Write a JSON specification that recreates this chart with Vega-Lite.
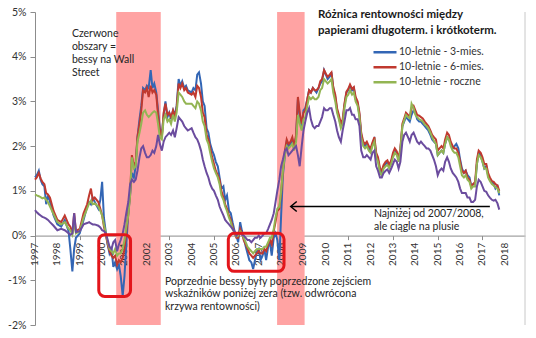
{
  "$schema": "https://vega.github.io/schema/vega-lite/v6.json",
  "width": 490,
  "height": 313,
  "autosize": {"type": "none"},
  "padding": {"left": 35, "top": 12, "right": 11, "bottom": 13},
  "background": "white",
  "config": {"font": "Lato", "view": {"stroke": null}},
  "datasets": {
    "series": [
      {"t":1997.00,"a":1.30,"b":1.25,"c":0.92,"p":0.57},
      {"t":1997.08,"a":1.35,"b":1.30,"c":0.90,"p":0.52},
      {"t":1997.17,"a":1.45,"b":1.40,"c":0.88,"p":0.48},
      {"t":1997.25,"a":1.25,"b":1.28,"c":0.86,"p":0.45},
      {"t":1997.33,"a":1.15,"b":1.20,"c":0.83,"p":0.42},
      {"t":1997.42,"a":1.10,"b":1.15,"c":0.85,"p":0.40},
      {"t":1997.50,"a":0.70,"b":0.95,"c":0.80,"p":0.38},
      {"t":1997.58,"a":0.90,"b":0.92,"c":0.75,"p":0.35},
      {"t":1997.67,"a":0.75,"b":0.85,"c":0.65,"p":0.30},
      {"t":1997.83,"a":0.45,"b":0.55,"c":0.48,"p":0.22},
      {"t":1998.00,"a":0.25,"b":0.35,"c":0.30,"p":0.12},
      {"t":1998.17,"a":0.20,"b":0.30,"c":0.25,"p":0.15},
      {"t":1998.33,"a":0.35,"b":0.45,"c":0.30,"p":0.12},
      {"t":1998.50,"a":0.10,"b":0.25,"c":0.15,"p":0.05},
      {"t":1998.58,"a":-0.30,"b":0.20,"c":0.12,"p":0.02},
      {"t":1998.67,"a":-0.80,"b":0.05,"c":0.02,"p":0.05},
      {"t":1998.75,"a":-0.30,"b":0.50,"c":0.30,"p":0.50},
      {"t":1998.83,"a":-0.05,"b":0.10,"c":0.05,"p":0.08},
      {"t":1999.00,"a":0.05,"b":0.15,"c":0.10,"p":0.10},
      {"t":1999.17,"a":0.35,"b":0.50,"c":0.40,"p":0.25},
      {"t":1999.33,"a":0.65,"b":0.70,"c":0.60,"p":0.28},
      {"t":1999.42,"a":0.75,"b":0.90,"c":0.72,"p":0.30},
      {"t":1999.50,"a":0.70,"b":1.05,"c":0.78,"p":0.27},
      {"t":1999.58,"a":0.85,"b":0.80,"c":0.70,"p":0.25},
      {"t":1999.67,"a":0.75,"b":0.85,"c":0.72,"p":0.25},
      {"t":1999.83,"a":0.60,"b":0.75,"c":0.65,"p":0.22},
      {"t":1999.92,"a":0.80,"b":0.60,"c":0.55,"p":0.18},
      {"t":2000.00,"a":1.20,"b":0.45,"c":0.45,"p":0.12},
      {"t":2000.08,"a":0.40,"b":0.20,"c":0.25,"p":0.10},
      {"t":2000.17,"a":0.05,"b":0.00,"c":0.05,"p":0.05},
      {"t":2000.25,"a":-0.20,"b":-0.20,"c":-0.15,"p":-0.10},
      {"t":2000.33,"a":-0.40,"b":-0.35,"c":-0.30,"p":-0.25},
      {"t":2000.42,"a":-0.30,"b":-0.45,"c":-0.35,"p":-0.30},
      {"t":2000.50,"a":-0.70,"b":-0.50,"c":-0.40,"p":-0.15},
      {"t":2000.58,"a":-0.60,"b":-0.45,"c":-0.30,"p":-0.10},
      {"t":2000.67,"a":-0.75,"b":-0.65,"c":-0.45,"p":-0.35},
      {"t":2000.75,"a":-0.65,"b":-0.55,"c":-0.40,"p":-0.20},
      {"t":2000.83,"a":-0.90,"b":-0.60,"c":-0.40,"p":-0.10},
      {"t":2000.92,"a":-1.35,"b":-0.50,"c":-0.30,"p":0.05},
      {"t":2001.00,"a":-0.90,"b":-0.30,"c":-0.10,"p":0.25},
      {"t":2001.08,"a":-0.20,"b":0.10,"c":0.20,"p":0.50},
      {"t":2001.17,"a":0.50,"b":0.50,"c":0.45,"p":0.75},
      {"t":2001.25,"a":0.90,"b":0.95,"c":0.90,"p":1.15},
      {"t":2001.33,"a":1.40,"b":1.80,"c":1.75,"p":1.25},
      {"t":2001.42,"a":1.30,"b":1.55,"c":1.50,"p":1.20},
      {"t":2001.50,"a":1.55,"b":1.65,"c":1.55,"p":1.25},
      {"t":2001.58,"a":2.20,"b":2.20,"c":2.10,"p":1.45},
      {"t":2001.67,"a":2.60,"b":2.50,"c":2.30,"p":1.75},
      {"t":2001.75,"a":2.90,"b":2.80,"c":2.50,"p":1.95},
      {"t":2001.83,"a":3.30,"b":3.25,"c":2.75,"p":2.00},
      {"t":2001.92,"a":3.25,"b":3.20,"c":2.80,"p":1.85},
      {"t":2002.00,"a":3.35,"b":3.30,"c":2.70,"p":1.75},
      {"t":2002.08,"a":3.30,"b":3.10,"c":2.65,"p":1.75},
      {"t":2002.17,"a":3.70,"b":3.35,"c":2.70,"p":1.80},
      {"t":2002.25,"a":3.30,"b":3.20,"c":2.75,"p":1.90},
      {"t":2002.33,"a":3.40,"b":3.25,"c":2.78,"p":1.85},
      {"t":2002.42,"a":3.20,"b":3.15,"c":2.75,"p":2.00},
      {"t":2002.50,"a":2.80,"b":2.70,"c":2.50,"p":2.25},
      {"t":2002.58,"a":2.40,"b":2.35,"c":2.20,"p":2.05},
      {"t":2002.67,"a":2.25,"b":2.20,"c":2.15,"p":1.90},
      {"t":2002.75,"a":2.70,"b":2.75,"c":2.60,"p":2.10},
      {"t":2002.83,"a":3.00,"b":2.95,"c":2.70,"p":2.20},
      {"t":2002.92,"a":2.65,"b":2.70,"c":2.55,"p":2.25},
      {"t":2003.00,"a":2.75,"b":2.75,"c":2.60,"p":2.30},
      {"t":2003.08,"a":2.60,"b":2.65,"c":2.50,"p":2.25},
      {"t":2003.17,"a":2.80,"b":2.80,"c":2.70,"p":2.35},
      {"t":2003.25,"a":2.70,"b":2.65,"c":2.55,"p":2.20},
      {"t":2003.33,"a":2.90,"b":2.85,"c":2.75,"p":2.40},
      {"t":2003.42,"a":3.50,"b":3.40,"c":3.20,"p":2.65},
      {"t":2003.50,"a":3.35,"b":3.30,"c":3.15,"p":2.60},
      {"t":2003.58,"a":3.45,"b":3.40,"c":3.10,"p":2.55},
      {"t":2003.67,"a":3.30,"b":3.25,"c":3.00,"p":2.45},
      {"t":2003.75,"a":3.35,"b":3.30,"c":2.95,"p":2.40},
      {"t":2003.83,"a":3.25,"b":3.20,"c":2.95,"p":2.35},
      {"t":2004.00,"a":3.20,"b":3.15,"c":2.95,"p":2.40},
      {"t":2004.08,"a":3.30,"b":3.20,"c":2.90,"p":2.30},
      {"t":2004.17,"a":3.25,"b":3.10,"c":2.85,"p":2.20},
      {"t":2004.25,"a":3.60,"b":3.35,"c":3.00,"p":2.15},
      {"t":2004.33,"a":3.65,"b":3.30,"c":2.95,"p":2.05},
      {"t":2004.42,"a":3.40,"b":3.10,"c":2.80,"p":1.90},
      {"t":2004.50,"a":3.00,"b":2.75,"c":2.55,"p":1.70},
      {"t":2004.58,"a":2.90,"b":2.65,"c":2.45,"p":1.55},
      {"t":2004.67,"a":2.40,"b":2.25,"c":2.15,"p":1.40},
      {"t":2004.75,"a":2.30,"b":2.15,"c":2.05,"p":1.30},
      {"t":2004.83,"a":2.05,"b":1.95,"c":1.85,"p":1.15},
      {"t":2004.92,"a":1.90,"b":1.75,"c":1.65,"p":1.05},
      {"t":2005.00,"a":1.80,"b":1.60,"c":1.50,"p":1.00},
      {"t":2005.08,"a":1.65,"b":1.45,"c":1.40,"p":0.90},
      {"t":2005.17,"a":1.55,"b":1.35,"c":1.30,"p":0.80},
      {"t":2005.25,"a":1.30,"b":1.25,"c":1.15,"p":0.65},
      {"t":2005.33,"a":1.05,"b":1.00,"c":0.90,"p":0.55},
      {"t":2005.42,"a":1.10,"b":0.85,"c":0.80,"p":0.45},
      {"t":2005.50,"a":0.80,"b":0.70,"c":0.65,"p":0.35},
      {"t":2005.58,"a":0.90,"b":0.60,"c":0.55,"p":0.30},
      {"t":2005.67,"a":0.55,"b":0.45,"c":0.40,"p":0.25},
      {"t":2005.75,"a":0.50,"b":0.35,"c":0.30,"p":0.20},
      {"t":2005.83,"a":0.30,"b":0.20,"c":0.15,"p":0.15},
      {"t":2005.92,"a":0.10,"b":0.05,"c":0.05,"p":0.08},
      {"t":2006.00,"a":0.00,"b":-0.05,"c":-0.02,"p":0.00},
      {"t":2006.08,"a":-0.15,"b":-0.05,"c":0.00,"p":0.05},
      {"t":2006.17,"a":0.30,"b":0.15,"c":0.10,"p":0.05},
      {"t":2006.25,"a":0.10,"b":0.05,"c":0.05,"p":0.02},
      {"t":2006.33,"a":-0.05,"b":-0.10,"c":-0.05,"p":0.00},
      {"t":2006.42,"a":-0.25,"b":-0.20,"c":-0.15,"p":-0.05},
      {"t":2006.50,"a":-0.40,"b":-0.30,"c":-0.25,"p":-0.10},
      {"t":2006.58,"a":-0.55,"b":-0.40,"c":-0.30,"p":-0.10},
      {"t":2006.67,"a":-0.60,"b":-0.45,"c":-0.35,"p":-0.15},
      {"t":2006.75,"a":-0.75,"b":-0.50,"c":-0.40,"p":-0.10},
      {"t":2006.83,"a":-0.55,"b":-0.45,"c":-0.35,"p":-0.05},
      {"t":2006.92,"a":-0.35,"b":-0.40,"c":-0.30,"p":-0.05},
      {"t":2007.00,"a":-0.30,"b":-0.35,"c":-0.30,"p":0.00},
      {"t":2007.08,"a":-0.55,"b":-0.40,"c":-0.30,"p":-0.05},
      {"t":2007.17,"a":-0.45,"b":-0.40,"c":-0.30,"p":0.00},
      {"t":2007.25,"a":-0.30,"b":-0.30,"c":-0.25,"p":0.05},
      {"t":2007.33,"a":-0.55,"b":-0.35,"c":-0.25,"p":0.05},
      {"t":2007.42,"a":-0.25,"b":-0.20,"c":-0.15,"p":0.15},
      {"t":2007.50,"a":-0.15,"b":-0.10,"c":-0.05,"p":0.25},
      {"t":2007.58,"a":-0.45,"b":-0.20,"c":-0.05,"p":0.35},
      {"t":2007.67,"a":-0.05,"b":0.10,"c":0.15,"p":0.50},
      {"t":2007.75,"a":0.05,"b":0.30,"c":0.40,"p":0.75},
      {"t":2007.83,"a":-0.10,"b":0.55,"c":0.60,"p":1.00},
      {"t":2007.92,"a":-0.55,"b":0.60,"c":0.65,"p":1.25},
      {"t":2008.00,"a":0.45,"b":0.95,"c":1.00,"p":1.55},
      {"t":2008.08,"a":1.35,"b":1.45,"c":1.45,"p":1.70},
      {"t":2008.17,"a":1.80,"b":1.90,"c":1.80,"p":1.90},
      {"t":2008.25,"a":2.10,"b":2.15,"c":2.00,"p":1.95},
      {"t":2008.33,"a":2.00,"b":2.05,"c":1.95,"p":1.80},
      {"t":2008.42,"a":2.05,"b":2.10,"c":2.00,"p":1.85},
      {"t":2008.50,"a":2.15,"b":2.20,"c":2.05,"p":1.90},
      {"t":2008.58,"a":1.95,"b":2.00,"c":1.90,"p":1.95},
      {"t":2008.67,"a":2.20,"b":2.25,"c":2.10,"p":2.00},
      {"t":2008.75,"a":3.05,"b":3.10,"c":2.70,"p":1.80},
      {"t":2008.83,"a":2.70,"b":2.75,"c":2.50,"p":1.55},
      {"t":2008.92,"a":2.45,"b":2.50,"c":2.35,"p":2.00},
      {"t":2009.00,"a":2.80,"b":2.75,"c":2.60,"p":2.35},
      {"t":2009.08,"a":2.85,"b":2.80,"c":2.65,"p":2.55},
      {"t":2009.17,"a":3.05,"b":3.05,"c":2.90,"p":2.75},
      {"t":2009.25,"a":3.25,"b":3.25,"c":3.10,"p":2.85},
      {"t":2009.33,"a":3.20,"b":3.20,"c":3.05,"p":2.60},
      {"t":2009.42,"a":3.30,"b":3.30,"c":3.10,"p":2.45},
      {"t":2009.50,"a":3.25,"b":3.25,"c":3.05,"p":2.40},
      {"t":2009.58,"a":3.20,"b":3.25,"c":3.05,"p":2.45},
      {"t":2009.67,"a":3.30,"b":3.30,"c":3.10,"p":2.45},
      {"t":2009.75,"a":3.40,"b":3.45,"c":3.25,"p":2.55},
      {"t":2009.83,"a":3.45,"b":3.50,"c":3.30,"p":2.65},
      {"t":2009.92,"a":3.70,"b":3.70,"c":3.50,"p":2.85},
      {"t":2010.00,"a":3.60,"b":3.62,"c":3.45,"p":2.80},
      {"t":2010.08,"a":3.50,"b":3.55,"c":3.40,"p":2.80},
      {"t":2010.17,"a":3.55,"b":3.60,"c":3.45,"p":2.85},
      {"t":2010.25,"a":3.65,"b":3.65,"c":3.50,"p":2.85},
      {"t":2010.33,"a":3.30,"b":3.32,"c":3.20,"p":2.70},
      {"t":2010.42,"a":3.10,"b":3.15,"c":3.00,"p":2.55},
      {"t":2010.50,"a":2.80,"b":2.85,"c":2.75,"p":2.35},
      {"t":2010.58,"a":2.65,"b":2.70,"c":2.60,"p":2.20},
      {"t":2010.67,"a":2.45,"b":2.50,"c":2.40,"p":2.10},
      {"t":2010.75,"a":2.55,"b":2.60,"c":2.50,"p":2.35},
      {"t":2010.83,"a":2.90,"b":2.95,"c":2.85,"p":2.55},
      {"t":2010.92,"a":3.20,"b":3.22,"c":3.10,"p":2.80},
      {"t":2011.00,"a":3.25,"b":3.28,"c":3.15,"p":2.80},
      {"t":2011.08,"a":3.35,"b":3.38,"c":3.25,"p":2.85},
      {"t":2011.17,"a":3.25,"b":3.28,"c":3.15,"p":2.70},
      {"t":2011.25,"a":3.30,"b":3.32,"c":3.20,"p":2.70},
      {"t":2011.33,"a":3.05,"b":3.10,"c":3.00,"p":2.60},
      {"t":2011.42,"a":2.95,"b":3.00,"c":2.90,"p":2.60},
      {"t":2011.50,"a":2.70,"b":2.75,"c":2.65,"p":2.45},
      {"t":2011.58,"a":2.25,"b":2.30,"c":2.20,"p":1.90},
      {"t":2011.67,"a":2.05,"b":2.10,"c":2.00,"p":1.75},
      {"t":2011.75,"a":2.00,"b":2.05,"c":1.95,"p":1.75},
      {"t":2011.83,"a":2.05,"b":2.10,"c":2.00,"p":1.80},
      {"t":2011.92,"a":1.95,"b":2.00,"c":1.90,"p":1.75},
      {"t":2012.00,"a":1.90,"b":1.95,"c":1.85,"p":1.70},
      {"t":2012.08,"a":2.05,"b":2.08,"c":2.00,"p":1.85},
      {"t":2012.17,"a":2.15,"b":2.20,"c":2.10,"p":1.90},
      {"t":2012.25,"a":1.80,"b":1.85,"c":1.75,"p":1.55},
      {"t":2012.33,"a":1.70,"b":1.75,"c":1.65,"p":1.45},
      {"t":2012.42,"a":1.45,"b":1.50,"c":1.40,"p":1.30},
      {"t":2012.50,"a":1.40,"b":1.45,"c":1.35,"p":1.30},
      {"t":2012.58,"a":1.55,"b":1.58,"c":1.50,"p":1.40},
      {"t":2012.67,"a":1.60,"b":1.65,"c":1.55,"p":1.45},
      {"t":2012.75,"a":1.65,"b":1.68,"c":1.58,"p":1.48},
      {"t":2012.83,"a":1.55,"b":1.58,"c":1.50,"p":1.40},
      {"t":2012.92,"a":1.65,"b":1.68,"c":1.60,"p":1.50},
      {"t":2013.00,"a":1.80,"b":1.85,"c":1.75,"p":1.60},
      {"t":2013.08,"a":1.90,"b":1.95,"c":1.85,"p":1.70},
      {"t":2013.17,"a":1.85,"b":1.88,"c":1.80,"p":1.65},
      {"t":2013.25,"a":1.70,"b":1.72,"c":1.65,"p":1.50},
      {"t":2013.33,"a":1.90,"b":1.95,"c":1.90,"p":1.65},
      {"t":2013.42,"a":2.45,"b":2.50,"c":2.45,"p":2.10},
      {"t":2013.50,"a":2.55,"b":2.62,"c":2.58,"p":2.25},
      {"t":2013.58,"a":2.65,"b":2.75,"c":2.70,"p":2.30},
      {"t":2013.67,"a":2.60,"b":2.70,"c":2.65,"p":2.20},
      {"t":2013.75,"a":2.55,"b":2.65,"c":2.62,"p":2.10},
      {"t":2013.83,"a":2.70,"b":2.85,"c":2.95,"p":2.25},
      {"t":2013.92,"a":2.80,"b":2.90,"c":2.85,"p":2.30},
      {"t":2014.00,"a":2.75,"b":2.80,"c":2.70,"p":2.20},
      {"t":2014.08,"a":2.60,"b":2.70,"c":2.65,"p":2.10},
      {"t":2014.17,"a":2.55,"b":2.68,"c":2.60,"p":2.05},
      {"t":2014.25,"a":2.55,"b":2.65,"c":2.58,"p":2.10},
      {"t":2014.33,"a":2.50,"b":2.62,"c":2.55,"p":2.05},
      {"t":2014.42,"a":2.45,"b":2.55,"c":2.48,"p":2.00},
      {"t":2014.50,"a":2.40,"b":2.50,"c":2.45,"p":1.95},
      {"t":2014.58,"a":2.35,"b":2.45,"c":2.40,"p":1.95},
      {"t":2014.67,"a":2.25,"b":2.35,"c":2.30,"p":1.90},
      {"t":2014.75,"a":2.15,"b":2.25,"c":2.20,"p":1.80},
      {"t":2014.83,"a":2.10,"b":2.20,"c":2.12,"p":1.70},
      {"t":2014.92,"a":2.05,"b":2.15,"c":2.05,"p":1.55},
      {"t":2015.00,"a":1.80,"b":1.90,"c":1.80,"p":1.35},
      {"t":2015.08,"a":1.85,"b":1.95,"c":1.85,"p":1.45},
      {"t":2015.17,"a":1.90,"b":2.00,"c":1.90,"p":1.50},
      {"t":2015.25,"a":1.85,"b":1.95,"c":1.85,"p":1.45},
      {"t":2015.33,"a":2.05,"b":2.15,"c":2.05,"p":1.65},
      {"t":2015.42,"a":2.20,"b":2.30,"c":2.20,"p":1.75},
      {"t":2015.50,"a":2.15,"b":2.25,"c":2.15,"p":1.65},
      {"t":2015.58,"a":2.05,"b":2.10,"c":2.00,"p":1.50},
      {"t":2015.67,"a":1.95,"b":2.00,"c":1.90,"p":1.40},
      {"t":2015.75,"a":2.00,"b":1.95,"c":1.85,"p":1.35},
      {"t":2015.83,"a":2.05,"b":1.95,"c":1.85,"p":1.30},
      {"t":2015.92,"a":1.95,"b":1.85,"c":1.75,"p":1.20},
      {"t":2016.00,"a":1.70,"b":1.65,"c":1.55,"p":1.05},
      {"t":2016.08,"a":1.50,"b":1.45,"c":1.35,"p":0.95},
      {"t":2016.17,"a":1.40,"b":1.40,"c":1.30,"p":0.95},
      {"t":2016.25,"a":1.45,"b":1.45,"c":1.35,"p":0.95},
      {"t":2016.33,"a":1.35,"b":1.30,"c":1.25,"p":0.85},
      {"t":2016.42,"a":1.30,"b":1.25,"c":1.20,"p":0.85},
      {"t":2016.50,"a":1.10,"b":1.10,"c":1.05,"p":0.75},
      {"t":2016.58,"a":1.15,"b":1.15,"c":1.10,"p":0.75},
      {"t":2016.67,"a":1.15,"b":1.20,"c":1.10,"p":0.80},
      {"t":2016.75,"a":1.60,"b":1.70,"c":1.60,"p":1.10},
      {"t":2016.83,"a":1.85,"b":1.90,"c":1.80,"p":1.25},
      {"t":2016.92,"a":1.80,"b":1.85,"c":1.75,"p":1.20},
      {"t":2017.00,"a":1.65,"b":1.75,"c":1.65,"p":1.10},
      {"t":2017.08,"a":1.50,"b":1.60,"c":1.50,"p":1.00},
      {"t":2017.17,"a":1.55,"b":1.60,"c":1.50,"p":0.98},
      {"t":2017.25,"a":1.35,"b":1.40,"c":1.30,"p":0.90},
      {"t":2017.33,"a":1.25,"b":1.30,"c":1.22,"p":0.85},
      {"t":2017.42,"a":1.20,"b":1.22,"c":1.15,"p":0.80},
      {"t":2017.50,"a":1.15,"b":1.20,"c":1.12,"p":0.78},
      {"t":2017.58,"a":1.05,"b":1.15,"c":1.08,"p":0.80},
      {"t":2017.67,"a":1.10,"b":1.12,"c":1.05,"p":0.72},
      {"t":2017.75,"a":0.90,"b":1.00,"c":0.95,"p":0.58}
    ],
    "years": [
      {"yr": 1997}, {"yr": 1998}, {"yr": 1999}, {"yr": 2000}, {"yr": 2001}, {"yr": 2002}, {"yr": 2003}, {"yr": 2004},
      {"yr": 2005}, {"yr": 2006}, {"yr": 2007}, {"yr": 2008}, {"yr": 2009}, {"yr": 2010}, {"yr": 2011}, {"yr": 2012},
      {"yr": 2013}, {"yr": 2014}, {"yr": 2015}, {"yr": 2016}, {"yr": 2017}, {"yr": 2018}
    ],
    "bands": [{"start": 2000.63, "end": 2002.62}, {"start": 2007.82, "end": 2009.05}],
    "boxes": [{"x1": 1999.85, "x2": 2001.27, "y1": 0.02, "y2": -1.36}, {"x1": 2005.64, "x2": 2008.13, "y1": 0.05, "y2": -0.8}],
    "one": [{"k": 1}]
  },
  "layer": [
    {
      "data": {"name": "bands"},
      "mark": {"type": "rect", "color": "#FFA3A3"},
      "encoding": {
        "x": {"field": "start", "type": "quantitative", "scale": {"domain": [1997, 2018.9], "nice": false, "zero": false},
          "axis": {"title": null, "orient": "bottom", "offset": -89.4, "values": [1997,1998,1999,2000,2001,2002,2003,2004,2005,2006,2007,2008,2009,2010,2011,2012,2013,2014,2015,2016,2017,2018], "labels": false, "tickSize": 4, "tickColor": "#8c8c8c", "domainColor": "#8c8c8c", "grid": false}},
        "x2": {"field": "end"},
        "y": {"datum": -2, "type": "quantitative", "scale": {"domain": [-2, 5], "nice": false},
          "axis": {"title": null, "orient": "left", "values": [-2, -1, 0, 1, 2, 3, 4, 5], "labelExpr": "datum.value + '%'", "labelFontSize": 10.5, "labelColor": "#333333", "tickSize": 5, "tickColor": "#8c8c8c", "domainColor": "#8c8c8c", "labelPadding": 4, "grid": false}},
        "y2": {"datum": 5}
      }
    },
    {
      "data": {"name": "one"},
      "mark": {"type": "rule", "color": "#c8c8c8", "strokeWidth": 1},
      "encoding": {
        "x": {"datum": 2018.9, "type": "quantitative", "title": null},
        "y": {"datum": -2, "type": "quantitative", "title": null},
        "y2": {"datum": 5}
      }
    },
    {
      "data": {"name": "years"},
      "mark": {"type": "text", "angle": 270, "align": "right", "baseline": "middle", "fontSize": 10, "color": "#333333"},
      "encoding": {
        "x": {"field": "yr", "type": "quantitative", "title": null},
        "y": {"datum": -0.16, "type": "quantitative", "title": null},
        "text": {"field": "yr", "type": "quantitative", "format": "d"}
      }
    },
    {
      "data": {"name": "series"},
      "transform": [{"fold": ["a", "b", "c", "p"], "as": ["s", "v"]}],
      "mark": {"type": "line", "strokeWidth": 2},
      "encoding": {
        "x": {"field": "t", "type": "quantitative", "title": null},
        "y": {"field": "v", "type": "quantitative", "title": null},
        "color": {
          "field": "s", "type": "nominal",
          "scale": {"domain": ["a", "b", "c", "p"], "range": ["#3366B5", "#C0392F", "#93B553", "#6B4C9E"]},
          "legend": {
            "values": ["a", "b", "c"],
            "labelExpr": "datum.label == 'a' ? '10-letnie - 3-mies.' : datum.label == 'b' ? '10-letnie - 6-mies.' : '10-letnie - roczne'",
            "title": null, "orient": "none", "legendX": 337, "legendY": 33, "padding": 0,
            "symbolType": "stroke", "symbolSize": 529, "symbolStrokeWidth": 2.5,
            "clipHeight": 14.5, "rowPadding": 0, "labelFontSize": 10.5, "labelColor": "#333333", "labelOffset": 1
          }
        }
      }
    },
    {
      "data": {"name": "boxes"},
      "mark": {"type": "rect", "fill": "white", "fillOpacity": 0, "stroke": "#E3151B", "strokeWidth": 3, "cornerRadius": 6},
      "encoding": {
        "x": {"field": "x1", "type": "quantitative", "title": null},
        "x2": {"field": "x2"},
        "y": {"field": "y1", "type": "quantitative", "title": null},
        "y2": {"field": "y2"}
      }
    },
    {
      "data": {"name": "one"},
      "mark": {"type": "rule", "color": "black", "strokeWidth": 1.5},
      "encoding": {
        "x": {"datum": 2008.45, "type": "quantitative", "title": null},
        "x2": {"datum": 2017.33},
        "y": {"datum": 0.65, "type": "quantitative", "title": null}
      }
    },
    {
      "data": {"name": "one"},
      "mark": {"type": "point", "shape": "M1.2,-1L0,0L1.2,1", "size": 100, "filled": false, "stroke": "black", "strokeWidth": 1.5, "opacity": 1},
      "encoding": {
        "x": {"datum": 2008.43, "type": "quantitative", "title": null},
        "y": {"datum": 0.65, "type": "quantitative", "title": null}
      }
    },
    {
      "data": {"name": "one"},
      "mark": {"type": "text", "text": ["Czerwone", "obszary =", "bessy na Wall", "Street"], "align": "left", "baseline": "top", "fontSize": 10.5, "lineHeight": 13.3, "color": "#262626"},
      "encoding": {
        "x": {"datum": 1998.65, "type": "quantitative", "title": null},
        "y": {"datum": 4.63, "type": "quantitative", "title": null}
      }
    },
    {
      "data": {"name": "one"},
      "mark": {"type": "text", "text": ["Różnica rentowności między", "papierami długoterm. i krótkoterm."], "align": "left", "baseline": "top", "fontSize": 11.5, "fontWeight": "bold", "lineHeight": 16, "color": "#1a1a1a"},
      "encoding": {
        "x": {"datum": 2009.65, "type": "quantitative", "title": null},
        "y": {"datum": 5.06, "type": "quantitative", "title": null}
      }
    },
    {
      "data": {"name": "one"},
      "mark": {"type": "text", "text": ["Najniżej od 2007/2008,", "ale ciągle na plusie"], "align": "left", "baseline": "top", "fontSize": 10.5, "lineHeight": 13.5, "color": "#262626"},
      "encoding": {
        "x": {"datum": 2012.15, "type": "quantitative", "title": null},
        "y": {"datum": 0.6, "type": "quantitative", "title": null}
      }
    },
    {
      "data": {"name": "one"},
      "mark": {"type": "text", "text": ["Poprzednie bessy były poprzedzone zejściem", "wskaźników poniżej zera (tzw. odwrócona", "krzywa rentowności)"], "align": "left", "baseline": "top", "fontSize": 10.5, "lineHeight": 12.5, "color": "#262626"},
      "encoding": {
        "x": {"datum": 2002.81, "type": "quantitative", "title": null},
        "y": {"datum": -0.92, "type": "quantitative", "title": null}
      }
    }
  ]
}
